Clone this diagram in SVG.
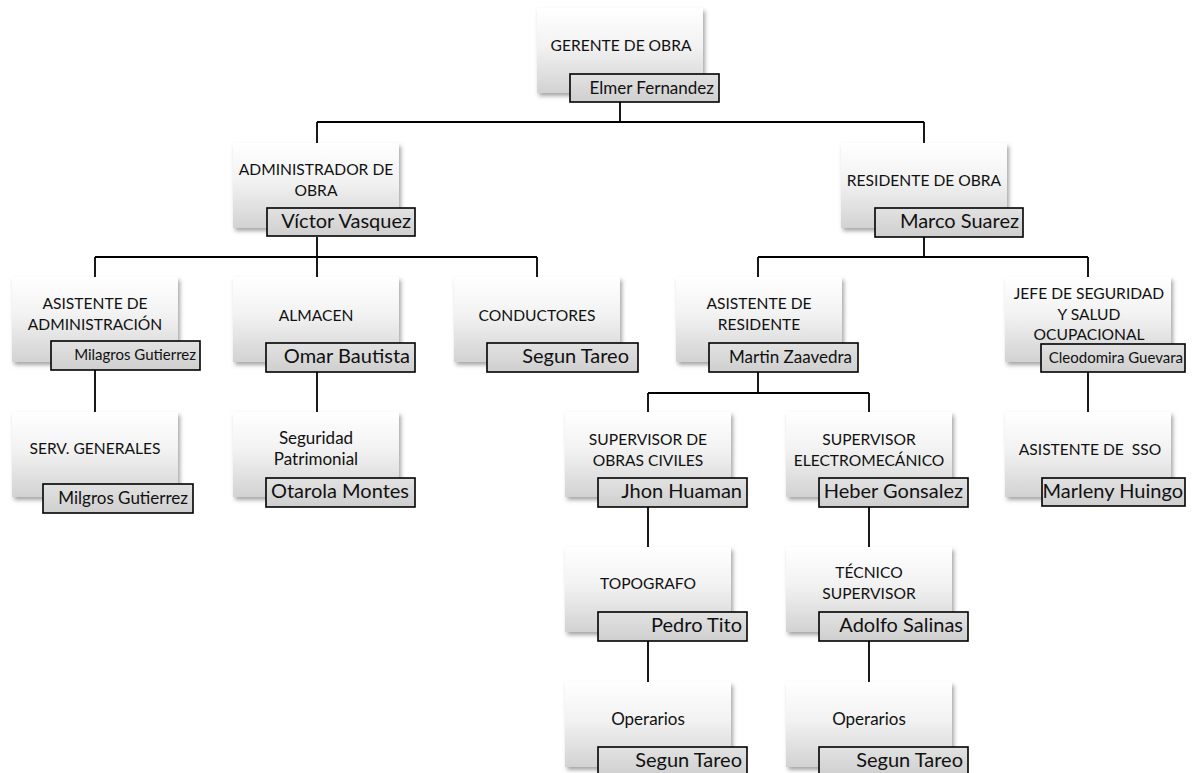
<svg xmlns="http://www.w3.org/2000/svg" width="1193" height="773" viewBox="0 0 1193 773">
<defs>
<linearGradient id="g" x1="0" y1="0" x2="0" y2="1">
<stop offset="0" stop-color="#ffffff"/>
<stop offset="0.45" stop-color="#f2f2f2"/>
<stop offset="1" stop-color="#d2d2d2"/>
</linearGradient>
<linearGradient id="gn" x1="0" y1="0" x2="0" y2="1">
<stop offset="0" stop-color="#e2e2e2"/>
<stop offset="1" stop-color="#cfcfcf"/>
</linearGradient>
<filter id="sh" x="-10%" y="-10%" width="125%" height="130%">
<feDropShadow dx="2" dy="3" stdDeviation="2" flood-color="#7f7f7f" flood-opacity="0.7"/>
</filter>
</defs>
<style>
.box{fill:url(#g);filter:url(#sh)}
.nb{fill:url(#gn);stroke:#000;stroke-width:1.6}
.t{font-family:Lato,"Liberation Sans",sans-serif;font-size:15.6px;fill:#111;text-anchor:middle}
.lc{font-size:17px}
.n{font-family:Lato,"Liberation Sans",sans-serif;font-size:20px;fill:#111;text-anchor:end}
.m{font-size:17px}
.s{font-size:15px}
.c{stroke:#000;stroke-width:1.8;fill:none}
</style>
<g id="connectors">
<path class="c" d="M620 102V122M317 122H924M317 122V143M924 122V143"/>
<path class="c" d="M317 237V257M95 257H537M95 257V277M317 257V277M537 257V277"/>
<path class="c" d="M924 237V257M758 257H1088M758 257V277M1088 257V277"/>
<path class="c" d="M95 370V412M317 372V412M1088 372V412"/>
<path class="c" d="M758 372V393M648 393H869M648 393V412M869 393V412"/>
<path class="c" d="M648 507V547M648 641V682M869 507V547M869 641V682"/>
</g>
<g id="gerente">
<rect class="box" x="537" y="8" width="166" height="85"/>
<text class="t" x="621" y="51">GERENTE DE OBRA</text>
<rect class="nb" x="570" y="74" width="149" height="28"/>
<text class="n m" x="714" y="94">Elmer Fernandez</text>
</g>
<g id="administrador">
<rect class="box" x="233" y="143" width="166" height="85"/>
<text class="t" x="316" y="175">ADMINISTRADOR DE</text>
<text class="t" x="316" y="196">OBRA</text>
<rect class="nb" x="267" y="208" width="148" height="28"/>
<text class="n" x="411" y="228">Víctor Vasquez</text>
</g>
<g id="residente">
<rect class="box" x="841" y="143" width="166" height="85"/>
<text class="t" x="924" y="186">RESIDENTE DE OBRA</text>
<rect class="nb" x="875" y="208" width="148" height="29"/>
<text class="n" x="1019" y="228">Marco Suarez</text>
</g>
<g id="asistente-admin">
<rect class="box" x="12" y="277" width="166" height="85"/>
<text class="t" x="95" y="309">ASISTENTE DE</text>
<text class="t" x="95" y="330">ADMINISTRACIÓN</text>
<rect class="nb" x="51" y="341" width="149" height="29"/>
<text class="n s" x="196" y="360">Milagros Gutierrez</text>
</g>
<g id="almacen">
<rect class="box" x="233" y="277" width="166" height="85"/>
<text class="t" x="316" y="321">ALMACEN</text>
<rect class="nb" x="266" y="343" width="149" height="29"/>
<text class="n" x="410" y="363">Omar Bautista</text>
</g>
<g id="conductores">
<rect class="box" x="454" y="277" width="166" height="85"/>
<text class="t" x="537" y="321">CONDUCTORES</text>
<rect class="nb" x="487" y="343" width="151" height="29"/>
<text class="n" x="629" y="363">Segun Tareo</text>
</g>
<g id="asistente-residente">
<rect class="box" x="676" y="277" width="166" height="85"/>
<text class="t" x="759" y="309">ASISTENTE DE</text>
<text class="t" x="759" y="330">RESIDENTE</text>
<rect class="nb" x="709" y="343" width="149" height="29"/>
<text class="n m" x="852" y="363">Martin Zaavedra</text>
</g>
<g id="jefe-seguridad">
<rect class="box" x="1005" y="277" width="166" height="85"/>
<text class="t" x="1089" y="299">JEFE DE SEGURIDAD</text>
<text class="t" x="1089" y="320">Y SALUD</text>
<text class="t" x="1089" y="340">OCUPACIONAL</text>
<rect class="nb" x="1041" y="344" width="144" height="28"/>
<text class="n s" x="1183" y="363">Cleodomira Guevara</text>
</g>
<g id="serv-generales">
<rect class="box" x="12" y="412" width="166" height="85"/>
<text class="t" x="95" y="454">SERV. GENERALES</text>
<rect class="nb" x="43" y="484" width="150" height="29"/>
<text class="n m" x="188" y="504">Milgros Gutierrez</text>
</g>
<g id="seguridad-patrimonial">
<rect class="box" x="233" y="412" width="166" height="85"/>
<text class="t lc" x="316" y="444">Seguridad</text>
<text class="t lc" x="316" y="465">Patrimonial</text>
<rect class="nb" x="266" y="478" width="149" height="29"/>
<text class="n" x="409" y="498">Otarola Montes</text>
</g>
<g id="asistente-sso">
<rect class="box" x="1005" y="412" width="166" height="85"/>
<text class="t" x="1090" y="455" xml:space="preserve">ASISTENTE DE  SSO</text>
<rect class="nb" x="1042" y="478" width="143" height="28"/>
<text class="n" x="1183" y="498">Marleny Huingo</text>
</g>
<g id="supervisor-civiles">
<rect class="box" x="565" y="412" width="166" height="85"/>
<text class="t" x="648" y="445">SUPERVISOR DE</text>
<text class="t" x="648" y="466">OBRAS CIVILES</text>
<rect class="nb" x="598" y="478" width="149" height="29"/>
<text class="n" x="742" y="498">Jhon Huaman</text>
</g>
<g id="supervisor-electro">
<rect class="box" x="786" y="412" width="166" height="85"/>
<text class="t" x="869" y="445">SUPERVISOR</text>
<text class="t" x="869" y="466">ELECTROMECÁNICO</text>
<rect class="nb" x="819" y="478" width="149" height="29"/>
<text class="n" x="963" y="498">Heber Gonsalez</text>
</g>
<g id="topografo">
<rect class="box" x="565" y="547" width="166" height="85"/>
<text class="t" x="648" y="589">TOPOGRAFO</text>
<rect class="nb" x="598" y="612" width="149" height="29"/>
<text class="n" x="742" y="632">Pedro Tito</text>
</g>
<g id="tecnico-supervisor">
<rect class="box" x="786" y="547" width="166" height="85"/>
<text class="t" x="869" y="578">TÉCNICO</text>
<text class="t" x="869" y="599">SUPERVISOR</text>
<rect class="nb" x="819" y="612" width="149" height="29"/>
<text class="n" x="963" y="632">Adolfo Salinas</text>
</g>
<g id="operarios-1">
<rect class="box" x="565" y="682" width="166" height="85"/>
<text class="t lc" x="648" y="725">Operarios</text>
<rect class="nb" x="598" y="747" width="149" height="29"/>
<text class="n" x="742" y="767">Segun Tareo</text>
</g>
<g id="operarios-2">
<rect class="box" x="786" y="682" width="166" height="85"/>
<text class="t lc" x="869" y="725">Operarios</text>
<rect class="nb" x="819" y="747" width="149" height="29"/>
<text class="n" x="963" y="767">Segun Tareo</text>
</g>
</svg>
